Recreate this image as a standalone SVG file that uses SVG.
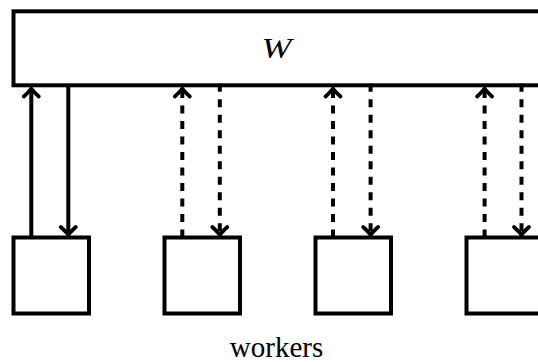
<svg xmlns="http://www.w3.org/2000/svg" width="538" height="362" viewBox="0 0 538 362">
  <style>
    .box { fill: #ffffff; stroke: #000000; stroke-width: 4; }
    .conn { fill: none; stroke: #000000; stroke-width: 4; }
    .dash { stroke-dasharray: 8 7.5; }
    text { font-family: 'Liberation Serif', 'DejaVu Serif', serif; fill: #000000; text-anchor: middle; }
  </style>
  <defs>
    <marker id="tip" markerUnits="userSpaceOnUse" markerWidth="24" markerHeight="24" viewBox="-12 -12 24 24" refX="0" refY="0" orient="auto" overflow="visible">
      <path d="M -8,-7.5 Q -3,-2 0,0 Q -3,2 -8,7.5" fill="none" stroke="#000000" stroke-width="3.8" stroke-linejoin="round" stroke-linecap="round"/>
    </marker>
  </defs>

  <g id="node-W">
    <rect class="box" x="13.5" y="11.3" width="535" height="74"/>
    <text x="276.5" y="58.3" font-size="30" font-style="italic" textLength="30" lengthAdjust="spacingAndGlyphs">W</text>
  </g>

  <g id="node-worker1"><rect class="box" x="13.5" y="237.5" width="75.5" height="76"/></g>
  <g id="node-worker2"><rect class="box" x="164.5" y="237.5" width="75.5" height="76"/></g>
  <g id="node-worker3"><rect class="box" x="315.5" y="237.5" width="75.5" height="76"/></g>
  <g id="node-worker4"><rect class="box" x="466.5" y="237.5" width="80" height="76"/></g>

  <g id="connectors">
    <line class="conn" x1="31.3" y1="237.5" x2="31.3" y2="88.5" marker-end="url(#tip)"/>
    <line class="conn" x1="68.3" y1="85.3" x2="68.3" y2="235" marker-end="url(#tip)"/>

    <line class="conn dash" x1="182.3" y1="237.5" x2="182.3" y2="88.5" marker-end="url(#tip)"/>
    <line class="conn dash" x1="219.8" y1="83.8" x2="219.8" y2="235" marker-end="url(#tip)"/>

    <line class="conn dash" x1="333" y1="237.5" x2="333" y2="88.5" marker-end="url(#tip)"/>
    <line class="conn dash" x1="370.6" y1="83.8" x2="370.6" y2="235" marker-end="url(#tip)"/>

    <line class="conn dash" x1="484.6" y1="237.5" x2="484.6" y2="88.5" marker-end="url(#tip)"/>
    <line class="conn dash" x1="521.5" y1="83.8" x2="521.5" y2="235" marker-end="url(#tip)"/>
  </g>

  <g id="label-workers">
    <text x="276.5" y="357" font-size="29">workers</text>
  </g>
</svg>
